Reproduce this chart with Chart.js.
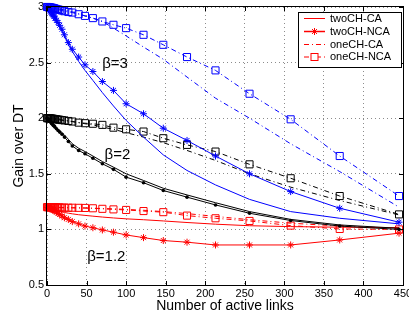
<!DOCTYPE html>
<html><head><meta charset="utf-8">
<script src="https://cdn.jsdelivr.net/npm/chart.js@4/dist/chart.umd.min.js"></script>
<style>html,body{margin:0;padding:0;background:#fff;}canvas{display:block;}</style>
</head><body>
<canvas id="c" width="409" height="315"></canvas>
<script>
// ---- data ----
const xLinks = [0,1,2,3,4,5,6,7,8,9,10,12,14,16,19,22,27,32,40,48,58,70,84,100,122,147,177,213,256,308,370,445];
const xTicks = [0,50,100,150,200,250,300,350,400,450];
const yTicks = [0.5,1,1.5,2,2.5,3];
const seriesNames = ['twoCH-CA','twoCH-NCA','oneCH-CA','oneCH-NCA'];

// beta = 3 (blue)
const b3TwoCA  = [3.00,2.99,2.98,2.97,2.96,2.95,2.94,2.93,2.92,2.905,2.89,2.87,2.85,2.82,2.78,2.74,2.66,2.60,2.51,2.43,2.34,2.23,2.11,1.98,1.83,1.67,1.53,1.40,1.27,1.16,1.10,1.05];
const b3TwoNCA = [3.00,2.99,2.985,2.975,2.965,2.955,2.945,2.935,2.925,2.915,2.90,2.88,2.86,2.835,2.80,2.75,2.68,2.62,2.55,2.48,2.42,2.33,2.25,2.13,2.04,1.91,1.80,1.66,1.50,1.34,1.19,1.065];
const b3OneCA  = [3.00,3.00,3.00,2.998,2.997,2.996,2.995,2.994,2.993,2.992,2.99,2.988,2.985,2.982,2.978,2.973,2.965,2.957,2.94,2.92,2.90,2.87,2.81,2.74,2.64,2.53,2.37,2.18,2.00,1.77,1.52,1.20];
const b3OneNCA = [3.00,3.00,2.998,2.997,2.996,2.995,2.993,2.992,2.99,2.988,2.986,2.982,2.978,2.974,2.968,2.962,2.955,2.95,2.935,2.92,2.90,2.87,2.84,2.81,2.75,2.66,2.55,2.43,2.22,1.99,1.66,1.30];
// beta = 2 (black)
const b2TwoCA  = [2.00,1.99,1.985,1.98,1.975,1.965,1.96,1.95,1.945,1.94,1.93,1.915,1.90,1.89,1.87,1.85,1.81,1.77,1.73,1.70,1.66,1.61,1.56,1.50,1.44,1.37,1.31,1.24,1.16,1.09,1.04,1.01];
const b2TwoNCA = [2.00,1.99,1.98,1.975,1.97,1.96,1.95,1.945,1.935,1.93,1.92,1.905,1.89,1.875,1.855,1.83,1.79,1.75,1.71,1.68,1.64,1.59,1.54,1.47,1.42,1.35,1.29,1.22,1.145,1.08,1.03,1.00];
const b2OneCA  = [2.00,2.00,2.00,1.999,1.998,1.997,1.996,1.995,1.995,1.994,1.993,1.99,1.988,1.986,1.983,1.98,1.975,1.97,1.96,1.95,1.94,1.92,1.90,1.87,1.83,1.78,1.71,1.62,1.50,1.38,1.26,1.13];
const b2OneNCA = [2.00,2.00,2.00,1.999,1.998,1.997,1.996,1.995,1.994,1.993,1.992,1.99,1.988,1.986,1.983,1.98,1.975,1.97,1.96,1.955,1.95,1.94,1.915,1.90,1.88,1.82,1.76,1.70,1.585,1.46,1.30,1.135];
// beta = 1.2 (red)
const b12TwoCA  = [1.20,1.199,1.197,1.195,1.193,1.19,1.188,1.185,1.182,1.18,1.177,1.172,1.167,1.162,1.157,1.152,1.146,1.14,1.132,1.126,1.119,1.111,1.103,1.095,1.087,1.076,1.062,1.047,1.033,1.025,1.02,1.016];
const b12TwoNCA = [1.20,1.198,1.195,1.19,1.187,1.184,1.18,1.177,1.174,1.17,1.165,1.155,1.145,1.135,1.12,1.105,1.09,1.07,1.05,1.03,1.015,0.995,0.975,0.95,0.926,0.90,0.885,0.86,0.86,0.86,0.905,0.966];
const b12OneCA  = [1.20,1.20,1.20,1.20,1.20,1.199,1.199,1.199,1.198,1.198,1.198,1.197,1.197,1.196,1.196,1.195,1.195,1.194,1.193,1.192,1.19,1.188,1.185,1.18,1.172,1.16,1.142,1.117,1.087,1.056,1.03,1.01];
const b12OneNCA = [1.20,1.20,1.20,1.20,1.20,1.20,1.199,1.199,1.199,1.199,1.198,1.198,1.197,1.197,1.196,1.196,1.195,1.195,1.194,1.193,1.19,1.185,1.18,1.175,1.165,1.155,1.124,1.10,1.076,1.034,1.004,1.00];

const betaLabels = ['\u03b2=3','\u03b2=2','\u03b2=1.2'];
const betaLabelX = [86, 89, 75];
const betaLabelY = [2.49, 1.67, 0.755];

// ---- build ----
const FONT = '"Liberation Sans", Arial, Helvetica, sans-serif';
const DASHDOT = [5,3,1,3];
function pts(arr){ return xLinks.map((x,i)=>({x:x,y:arr[i]})); }
function ds(name, arr, color, kind){
  const d = {label:name, data:pts(arr), borderColor:color, backgroundColor:color,
    borderWidth:1, tension:0, fill:false, clip:false, pointRadius:0, pointHoverRadius:0};
  if (kind==='star'){ d.pointStyle='star'; d.pointRadius=3.5; d.pointBorderColor=color; d.pointBorderWidth=1; }
  if (kind==='dot'){ d.pointStyle='circle'; d.pointRadius=1.8; d.pointBorderColor=color; d.pointBackgroundColor=color; d.pointBorderWidth=0; }
  if (kind==='dashdot'){ d.borderDash=DASHDOT; }
  if (kind==='square'){ d.borderDash=DASHDOT; d.pointStyle='rect'; d.pointRadius=5; d.pointBorderColor=color; d.pointBackgroundColor='rgba(0,0,0,0)'; d.pointBorderWidth=1; }
  return d;
}
const datasets = [
  ds('twoCH-CA', b3TwoCA, '#0000ff', 'line'),
  ds('twoCH-NCA', b3TwoNCA, '#0000ff', 'star'),
  ds('oneCH-CA', b3OneCA, '#0000ff', 'dashdot'),
  ds('oneCH-NCA', b3OneNCA, '#0000ff', 'square'),
  ds('twoCH-CA', b2TwoCA, '#000000', 'line'),
  ds('twoCH-NCA', b2TwoNCA, '#000000', 'dot'),
  ds('oneCH-CA', b2OneCA, '#000000', 'dashdot'),
  ds('oneCH-NCA', b2OneNCA, '#000000', 'square'),
  ds('twoCH-CA', b12TwoCA, '#ff0000', 'line'),
  ds('twoCH-NCA', b12TwoNCA, '#ff0000', 'star'),
  ds('oneCH-CA', b12OneCA, '#ff0000', 'dashdot'),
  ds('oneCH-NCA', b12OneNCA, '#ff0000', 'square')
];

const frame = {
  id:'frame',
  afterDatasetsDraw(chart){
    const {ctx, chartArea:a, scales:{x, y}} = chart;
    ctx.save();
    ctx.strokeStyle='#000'; ctx.lineWidth=1; ctx.setLineDash([]);
    ctx.strokeRect(Math.round(a.left)-0.5, Math.round(a.top)-0.5, Math.round(a.right-a.left)+1, Math.round(a.bottom-a.top)+1);
    ctx.beginPath();
    xTicks.forEach(v=>{ const px=Math.round(x.getPixelForValue(v))+0.5;
      ctx.moveTo(px,a.bottom); ctx.lineTo(px,a.bottom-4); ctx.moveTo(px,a.top); ctx.lineTo(px,a.top+4); });
    yTicks.forEach(v=>{ const py=Math.round(y.getPixelForValue(v))+0.5;
      ctx.moveTo(a.left,py); ctx.lineTo(a.left+4,py); ctx.moveTo(a.right,py); ctx.lineTo(a.right-4,py); });
    ctx.stroke();
    // beta labels
    ctx.fillStyle='#000'; ctx.font='15px '+FONT; ctx.textAlign='center'; ctx.textBaseline='middle';
    betaLabels.forEach((t,i)=>ctx.fillText(t, x.getPixelForValue(betaLabelX[i]), y.getPixelForValue(betaLabelY[i])));
    ctx.restore();
  },
  afterDraw(chart){
    const ctx = chart.ctx;
    ctx.save();
    const bx=298, by=12, bw=103, bh=55;
    ctx.fillStyle='#fff'; ctx.fillRect(bx,by,bw,bh);
    ctx.strokeStyle='#000'; ctx.lineWidth=1; ctx.strokeRect(bx+0.5,by+0.5,bw,bh);
    const rows=[18.5,31.5,44.5,57];
    const red='#ff0000';
    rows.forEach((ry,i)=>{
      ctx.strokeStyle=red; ctx.lineWidth=(i===1)?1.5:1;
      ctx.setLineDash(i>=2?DASHDOT:[]);
      ctx.beginPath(); ctx.moveTo(304,ry); ctx.lineTo(325,ry); ctx.stroke();
      ctx.setLineDash([]); ctx.lineWidth=1;
      const cx=314.5;
      if(i===1){ const r=3.5; ctx.beginPath();
        ctx.moveTo(cx-r,ry); ctx.lineTo(cx+r,ry); ctx.moveTo(cx,ry-r); ctx.lineTo(cx,ry+r);
        const q=r*0.707; ctx.moveTo(cx-q,ry-q); ctx.lineTo(cx+q,ry+q); ctx.moveTo(cx-q,ry+q); ctx.lineTo(cx+q,ry-q); ctx.stroke(); }
      if(i===3){ ctx.fillStyle='#fff'; ctx.fillRect(cx-3.5,ry-3.5,7,7); ctx.strokeRect(cx-3.5,ry-3.5,7,7); }
      ctx.fillStyle='#000'; ctx.font='11px '+FONT; ctx.textAlign='left'; ctx.textBaseline='middle';
      ctx.fillText(seriesNames[i], 330, ry);
    });
    ctx.restore();
  }
};

new Chart(document.getElementById('c'), {
  type:'line',
  data:{datasets:datasets},
  plugins:[frame],
  options:{
    responsive:false, animation:false, devicePixelRatio:1,
    layout:{padding:{top:7,right:3,left:0,bottom:0}},
    plugins:{legend:{display:false}, tooltip:{enabled:false}},
    events:[],
    scales:{
      x:{type:'linear', min:0, max:450,
        afterBuildTicks:s=>{ s.ticks = xTicks.map(v=>({value:v})); },
        afterFit:s=>{ s.height=30; s.paddingLeft=0; s.paddingRight=0; },
        ticks:{autoSkip:false, maxRotation:0, padding:2, color:'#000', font:{family:FONT,size:11}, callback:v=>String(v)},
        grid:{color:'#8c8c8c', lineWidth:1, drawTicks:false},
        border:{display:false, dash:[1,3]},
        title:{display:true, text:'Number of active links', color:'#000', font:{family:FONT,size:14}, padding:{top:0,bottom:0}}
      },
      y:{type:'linear', min:0.5, max:3,
        afterBuildTicks:s=>{ s.ticks = yTicks.map(v=>({value:v})); },
        afterFit:s=>{ s.width=47; s.paddingTop=0; s.paddingBottom=0; },
        ticks:{autoSkip:false, padding:3, color:'#000', font:{family:FONT,size:11}, callback:v=>String(v)},
        grid:{color:'#8c8c8c', lineWidth:1, drawTicks:false},
        border:{display:false, dash:[1,3]},
        title:{display:true, text:'Gain over DT', color:'#000', font:{family:FONT,size:14}, padding:{top:11,bottom:0}}
      }
    }
  }
});
</script>
</body></html>
